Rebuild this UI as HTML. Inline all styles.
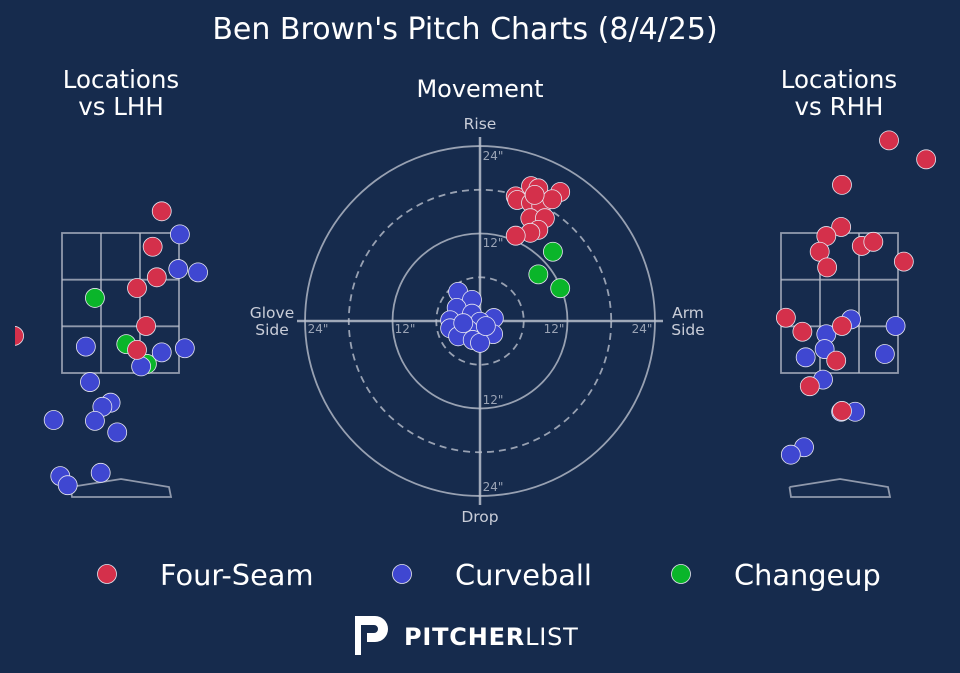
<!DOCTYPE html>
<html><head><meta charset="utf-8">
<style>
html,body{margin:0;padding:0;background:#162b4d;}
svg{display:block;font-family:"DejaVu Sans","Liberation Sans",sans-serif;}
</style></head>
<body>
<svg id="chart" width="960" height="673" viewBox="0 0 960 673" xmlns="http://www.w3.org/2000/svg">
<rect width="960" height="673" fill="#162b4d"/>
<defs><clipPath id="clipL"><rect x="15" y="130" width="230" height="400"/></clipPath></defs>
<text x="465" y="39" font-size="30" fill="#fff" text-anchor="middle">Ben Brown's Pitch Charts (8/4/25)</text>
<text x="121" y="88" font-size="24.5" fill="#fff" text-anchor="middle"><tspan x="121">Locations</tspan><tspan x="121" dy="27">vs LHH</tspan></text>
<text x="839" y="88" font-size="24.5" fill="#fff" text-anchor="middle"><tspan x="839">Locations</tspan><tspan x="839" dy="27">vs RHH</tspan></text>
<text x="480" y="97" font-size="24" fill="#fff" text-anchor="middle">Movement</text>
<g id="lhh"></g>
<g id="rhh"></g>
<g id="mov"></g>
<g id="legend"></g>
<g>
<path d="M355 616 h20 a13 13 0 0 1 0 26 h-8 v-9 h7 a4 4 0 0 0 0 -8 h-13 v30 h-6 z" fill="#fff"/>
<text x="404" y="645" font-size="24" fill="#fff" font-weight="bold" letter-spacing="0.8">PITCHER<tspan font-weight="normal">LIST</tspan></text>
</g>
</svg>
<script>
// Locations vs LHH (plate_x ft, plate_z ft)
const lhhFSx=[0.50,0.39,0.44,0.20,0.31,0.20,-1.29];
const lhhFSz=[3.56,3.13,2.76,2.63,2.17,1.88,2.05];
const lhhCUx=[0.72,0.70,0.94,-0.42,0.50,0.78,0.25,-0.37,-0.12,-0.22,-0.31,-0.81,-0.04,-0.73,-0.64,-0.24];
const lhhCUz=[3.28,2.86,2.82,1.92,1.85,1.90,1.68,1.49,1.24,1.19,1.02,1.03,0.88,0.35,0.24,0.39];
const lhhCHx=[-0.31,0.07,0.32];
const lhhCHz=[2.51,1.95,1.71];
// Locations vs RHH
const rhhFSx=[0.60,1.05,0.03,0.02,-0.16,-0.24,-0.15,0.27,0.41,0.78,-0.65,-0.45,0.03,-0.04,-0.36,0.03];
const rhhFSz=[4.42,4.19,3.88,3.37,3.26,3.07,2.88,3.14,3.19,2.95,2.27,2.10,2.17,1.75,1.44,1.14];
const rhhCUx=[0.14,-0.16,0.68,-0.18,-0.41,0.55,-0.20,0.19,0.02,-0.43,-0.59];
const rhhCUz=[2.25,2.07,2.17,1.89,1.79,1.83,1.52,1.13,1.13,0.70,0.61];
// Movement (inches: horizontal break, induced vertical break)
const movFSh=[4.9,7.0,8.0,11.0,5.1,7.0,8.4,9.9,6.9,8.9,8.0,6.9,4.9,7.5];
const movFSv=[17.1,18.5,18.2,17.7,16.6,16.2,15.8,16.7,14.1,14.1,12.5,12.1,11.7,17.3];
const movCUh=[-3.0,-1.1,-3.2,-1.1,1.9,-4.1,0,-4.1,-1.6,1.8,-3.0,-1.0,0,-2.3,0.8];
const movCUv=[4.0,2.9,1.8,1.0,0.4,0.1,-0.1,-1.0,-1.2,-1.8,-2.1,-2.6,-3.0,-0.3,-0.7];
const movCHh=[10.0,8.0,11.0];
const movCHv=[9.5,6.4,4.5];
const legendLabels=["Four-Seam","Curveball","Changeup"];
const colors={FS:"#d4304b",CU:"#3f47d1",CH:"#0ab52a"};

const NS="http://www.w3.org/2000/svg";
function mk(tag,attrs,parent){const e=document.createElementNS(NS,tag);for(const k in attrs)e.setAttribute(k,attrs[k]);parent.appendChild(e);return e;}
const PXFT=82.5;
function locX(cx){return x=>cx+x*PXFT;}
function locY(z){return 373-(z-1.6)*PXFT;}
function dot(p,x,y,c,name){
  const e=mk('circle',{cx:x,cy:y,r:9.5,fill:c,stroke:'#e6e6f0','stroke-width':0.8},p);
  
  
}
function zone(g,cx){
  const sx=locX(cx);const L=sx(-0.7091),R=sx(0.7091),T=locY(3.297),B=locY(1.6);
  const st={stroke:'#b9bfcc','stroke-width':1.8,fill:'none','stroke-opacity':0.75};
  const r=mk('rect',Object.assign({x:L,y:T,width:R-L,height:B-T},st),g);
  
  
  for(let i=1;i<3;i++){mk('line',Object.assign({x1:L+(R-L)*i/3,x2:L+(R-L)*i/3,y1:T,y2:B},st),g);
    mk('line',Object.assign({x1:L,x2:R,y1:T+(B-T)*i/3,y2:T+(B-T)*i/3},st),g);}
  const pl=mk('polyline',Object.assign({points:`${cx-50},487 ${cx+0.5},479 ${cx+48.5},487 ${cx+50.5},497 ${cx-48.5},497 ${cx-50},487`},st),g);
  
  
}
function panel(id,cx,sets){
  const g=document.getElementById(id);zone(g,cx);const sx=locX(cx);
  const dg=mk('g',{'clip-path':id==='lhh'?'url(#clipL)':''},g);
  sets.forEach(s=>s.xs.forEach((x,i)=>dot(dg,sx(x),locY(s.zs[i]),s.c,s.n)));
}
panel('lhh',120.5,[{xs:lhhCHx,zs:lhhCHz,c:colors.CH,n:'changeup-pitch'},{xs:lhhCUx,zs:lhhCUz,c:colors.CU,n:'curveball-pitch'},{xs:lhhFSx,zs:lhhFSz,c:colors.FS,n:'four-seam-pitch'}]);
panel('rhh',839.5,[{xs:rhhCUx,zs:rhhCUz,c:colors.CU,n:'curveball-pitch'},{xs:rhhFSx,zs:rhhFSz,c:colors.FS,n:'four-seam-pitch'}]);

// movement
(function(){
  const g=document.getElementById('mov');const CX=480,CY=321,PI=7.29;
  const mx=h=>CX+h*PI,my=v=>CY-v*PI;
  const gs={stroke:'#b9bfcc',fill:'none','stroke-opacity':0.8};
  [12,24].forEach(r=>mk('circle',Object.assign({cx:CX,cy:CY,r:r*PI,'stroke-width':1.8},gs),g));
  [6,18].forEach(r=>mk('circle',Object.assign({cx:CX,cy:CY,r:r*PI,'stroke-width':1.8,'stroke-dasharray':'7,5','stroke-opacity':0.4},gs),g));
  mk('line',{x1:297,x2:663,y1:CY,y2:CY,stroke:'#b9bfcc','stroke-width':2.5,'stroke-opacity':0.85},g);
  mk('line',{x1:CX,x2:CX,y1:137,y2:505,stroke:'#b9bfcc','stroke-width':2.5,'stroke-opacity':0.85},g);
  const tl=[[493,160,'24"'],[493,247,'12"'],[493,404,'12"'],[493,491,'24"'],[318,333,'24"'],[405,333,'12"'],[554,333,'12"'],[642,333,'24"']];
  tl.forEach(t=>{const e=mk('text',{x:t[0],y:t[1],'font-size':12,fill:'#9aa3b5','text-anchor':'middle'},g);e.textContent=t[2];});
  const lb=[[480,129,'Rise'],[480,522,'Drop']];
  lb.forEach(t=>{const e=mk('text',{x:t[0],y:t[1],'font-size':15.5,fill:'#c9cdd8','text-anchor':'middle'},g);e.textContent=t[2];});
  const gl=mk('text',{x:272,y:318,'font-size':15.5,fill:'#c9cdd8','text-anchor':'middle'},g);gl.innerHTML='<tspan x="272">Glove</tspan><tspan x="272" dy="17">Side</tspan>';
  const ar=mk('text',{x:688,y:318,'font-size':15.5,fill:'#c9cdd8','text-anchor':'middle'},g);ar.innerHTML='<tspan x="688">Arm</tspan><tspan x="688" dy="17">Side</tspan>';
  movCUh.forEach((h,i)=>dot(g,mx(h),my(movCUv[i]),colors.CU,'curveball-movement'));
  movCHh.forEach((h,i)=>dot(g,mx(h),my(movCHv[i]),colors.CH,'changeup-movement'));
  movFSh.forEach((h,i)=>dot(g,mx(h),my(movFSv[i]),colors.FS,'four-seam-movement'));
})();

// legend
(function(){
  const g=document.getElementById('legend');const xs=[107,402,681];const cs=[colors.FS,colors.CU,colors.CH];
  legendLabels.forEach((l,i)=>{
    const e=mk('g',{},g);
    
    
    mk('circle',{cx:xs[i],cy:574,r:9.5,fill:cs[i],stroke:'#e6e6f0','stroke-width':0.8},e);
    const t=mk('text',{x:xs[i]+53,y:585,'font-size':28.8,fill:'#fff'},e);t.textContent=l;
  });
})();
</script>
</body></html>
